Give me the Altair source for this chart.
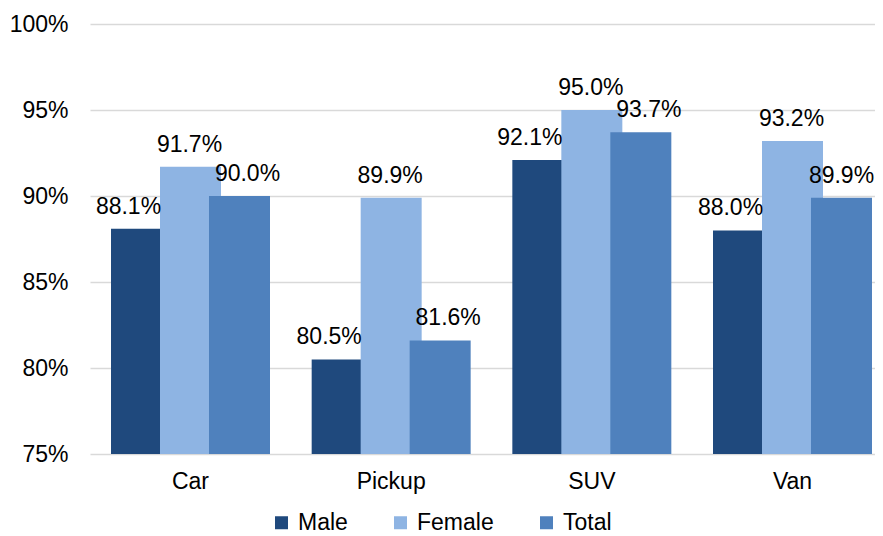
import altair as alt
import pandas as pd

categories = ["Car", "Pickup", "SUV", "Van"]
series = ["Male", "Female", "Total"]
male = [0.881, 0.805, 0.921, 0.880]
female = [0.917, 0.899, 0.950, 0.932]
total = [0.900, 0.816, 0.937, 0.899]
colors = ["#1F497D", "#8EB4E3", "#4F81BD"]
label_shift = [-13, -1, 8]

rows = []
for i, c in enumerate(categories):
    for s, vals in zip(series, [male, female, total]):
        rows.append({"cat": c, "series": s, "value": vals[i]})
df = pd.DataFrame(rows)

FONT = "Liberation Sans"

x = alt.X("cat:N", sort=categories, title=None,
          scale=alt.Scale(range=[0, 803], paddingInner=0.2675, paddingOuter=0.1346),
          axis=alt.Axis(labelAngle=0, ticks=False, domain=False, grid=False, labelFontSize=23,
                        labelColor="#000000", labelFont=FONT, labelPadding=16))
xoff = alt.XOffset("series:N", sort=series, scale=alt.Scale(paddingInner=0, paddingOuter=0))
color = alt.Color("series:N", sort=series,
                  scale=alt.Scale(domain=series, range=colors),
                  legend=alt.Legend(title=None, orient="none", direction="horizontal",
                                    legendX=180, legendY=487, symbolType="square",
                                    symbolSize=169, symbolStrokeWidth=0,
                                    labelFontSize=23, labelFont=FONT, labelColor="#000000",
                                    columnPadding=41, labelOffset=5))

bars = alt.Chart(df).mark_bar(width=61).encode(
    x=x,
    xOffset=xoff,
    y=alt.Y("value:Q", title=None,
            scale=alt.Scale(domain=[0.75, 1.0], zero=False, nice=False),
            axis=alt.Axis(format=".0%", values=[0.75, 0.8, 0.85, 0.9, 0.95, 1.0],
                          ticks=False, domain=False, grid=True, gridColor="#D9D9D9",
                          gridWidth=1.5, labelFontSize=23, labelFont=FONT,
                          labelColor="#000000", labelPadding=22)),
    y2=alt.datum(0.75),
    color=color,
)


def label_layer(filt, shift):
    return alt.Chart(df).transform_filter(filt).mark_text(
        baseline="alphabetic", dy=-15, dx=shift, fontSize=23, font=FONT, color="#000000"
    ).encode(
        x=alt.X("cat:N", sort=categories),
        xOffset=xoff,
        y=alt.Y("value:Q"),
        text=alt.Text("value:Q", format=".1%"),
    )


layers = [bars]
layers.append(label_layer(alt.datum.series == "Male", label_shift[0]))
layers.append(label_layer(alt.datum.series == "Female", label_shift[1]))
layers.append(label_layer((alt.datum.series == "Total") & (alt.datum.cat != "Van"), label_shift[2]))
layers.append(label_layer((alt.datum.series == "Total") & (alt.datum.cat == "Van"), 0))

chart = alt.layer(*layers).properties(
    width=785, height=430,
    autosize=alt.AutoSizeParams(type="none"),
    padding={"left": 82, "top": 16, "right": 0, "bottom": 80},
).configure(background="#ffffff").configure_view(stroke=None)

chart.save("out.html", embed_options={"renderer": "svg", "actions": False})
